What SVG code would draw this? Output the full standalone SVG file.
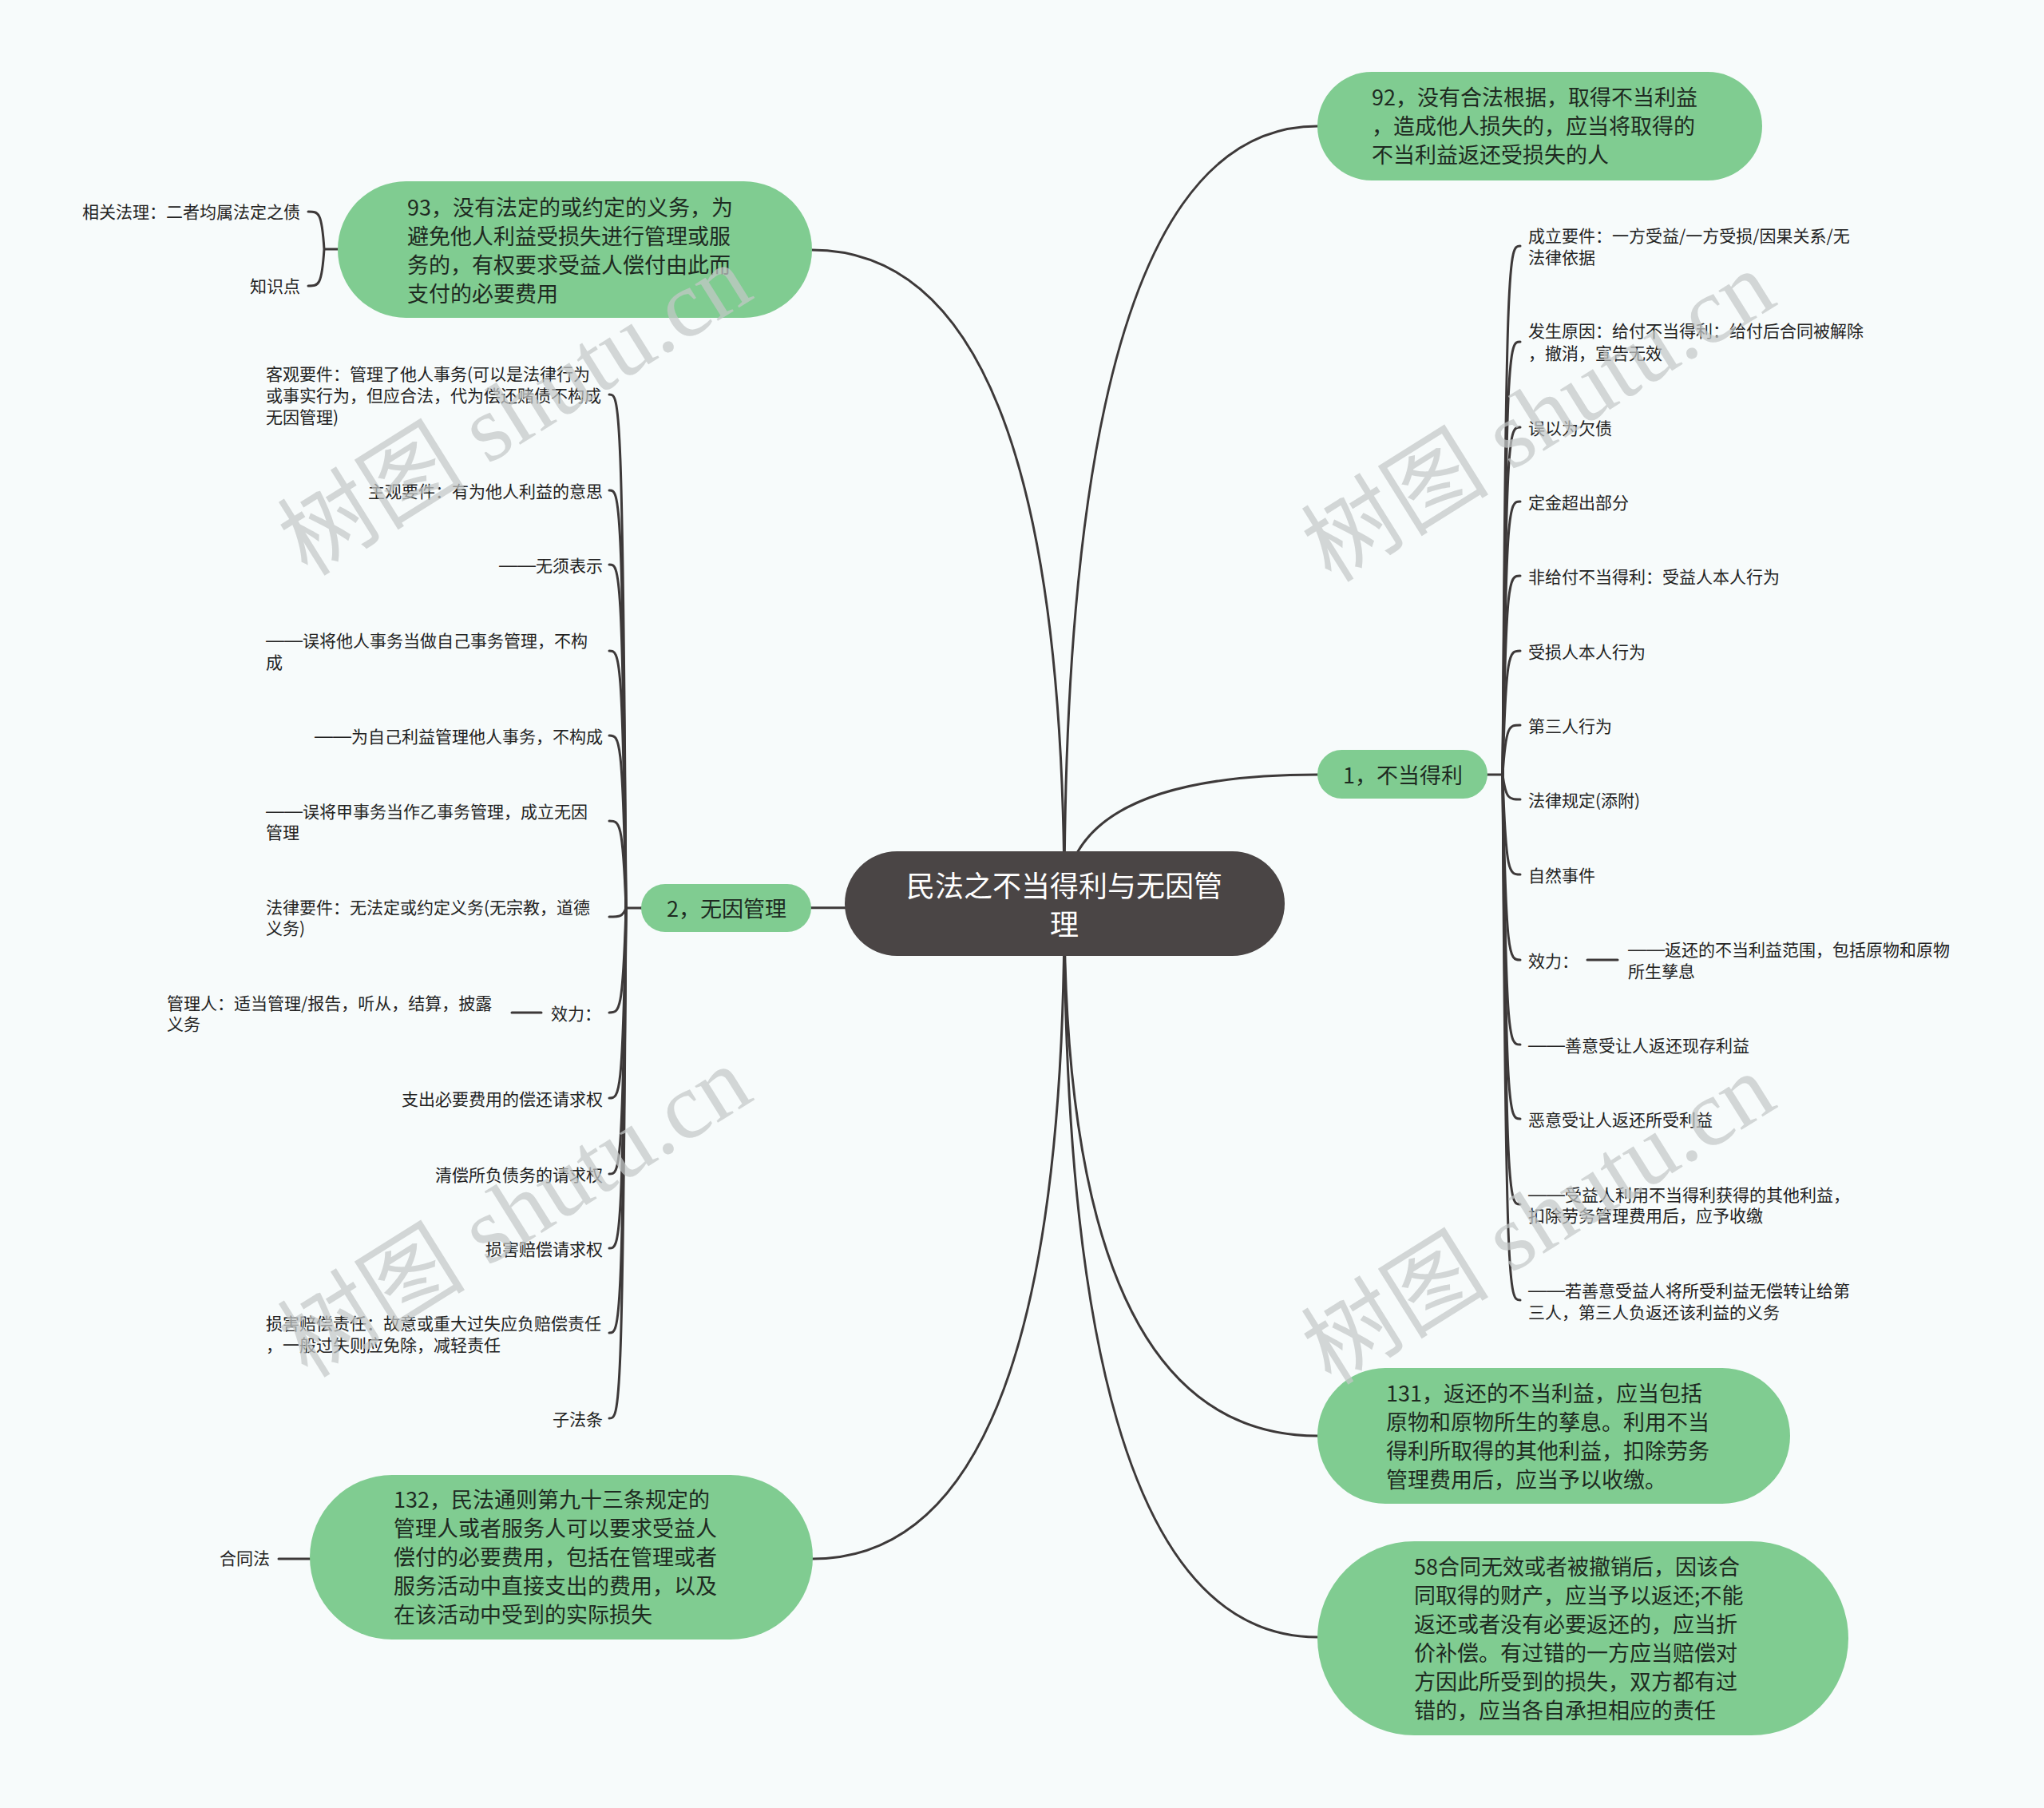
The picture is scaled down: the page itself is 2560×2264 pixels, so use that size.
<svg xmlns="http://www.w3.org/2000/svg" width="2560" height="2264" viewBox="0 0 2560 2264">
<style>
text{font-family:"Noto Sans CJK SC","Noto Sans",sans-serif;dominant-baseline:central}
.main{fill:#80cc91}
.mt{font-size:27px;fill:#1e2a21}
.st{font-size:21px;fill:#222}
.d{font-family:"Liberation Sans","Noto Sans CJK SC",sans-serif;font-size:23px}
.r{text-anchor:end}
.c{text-anchor:middle}
.ln{fill:none;stroke:#3d3939;stroke-width:3;stroke-linecap:round}
.wm{font-family:"Liberation Serif","Noto Sans CJK SC",serif;font-size:118px;fill:#c4c8c8;opacity:0.72;text-anchor:middle}
</style>
<rect width="2560" height="2264" fill="#f7fbfb"/>
<g id="connectors">
<path class="ln" d="M1333,1133 Q1333,158 1650,158"/>
<path class="ln" d="M1333,1133 Q1333,313 1017,313"/>
<path class="ln" d="M1333,1133 Q1333,970 1650,970"/>
<path class="ln" d="M1333,1133 Q1333,1137 803,1137"/>
<path class="ln" d="M1333,1133 Q1333,1798 1650,1798"/>
<path class="ln" d="M1333,1133 Q1333,2050 1650,2050"/>
<path class="ln" d="M1333,1133 Q1333,1952 1018,1952"/>
<path class="ln" d="M423,312 H406 M406,312 C403,265 399,265 386,265 M406,312 C403,358 399,358 386,358"/>
<path class="ln" d="M388,1952 H349"/>
<path class="ln" d="M1863,970 H1882"/>
<path class="ln" d="M1882,970 C1886,308 1890,308 1904,308"/>
<path class="ln" d="M1882,970 C1886,428 1890,428 1904,428"/>
<path class="ln" d="M1882,970 C1886,535 1890,535 1904,535"/>
<path class="ln" d="M1882,970 C1886,628 1890,628 1904,628"/>
<path class="ln" d="M1882,970 C1886,721 1890,721 1904,721"/>
<path class="ln" d="M1882,970 C1886,815 1890,815 1904,815"/>
<path class="ln" d="M1882,970 C1886,908 1890,908 1904,908"/>
<path class="ln" d="M1882,970 C1886,1001 1890,1001 1904,1001"/>
<path class="ln" d="M1882,970 C1886,1095 1890,1095 1904,1095"/>
<path class="ln" d="M1882,970 C1886,1202 1890,1202 1904,1202"/>
<path class="ln" d="M1882,970 C1886,1308 1890,1308 1904,1308"/>
<path class="ln" d="M1882,970 C1886,1401 1890,1401 1904,1401"/>
<path class="ln" d="M1882,970 C1886,1508 1890,1508 1904,1508"/>
<path class="ln" d="M1882,970 C1886,1628 1890,1628 1904,1628"/>
<path class="ln" d="M1988,1202 H2026"/>
<path class="ln" d="M803,1137 H784"/>
<path class="ln" d="M784,1137 C780,494 776,494 763,494"/>
<path class="ln" d="M784,1137 C780,614 776,614 763,614"/>
<path class="ln" d="M784,1137 C780,707 776,707 763,707"/>
<path class="ln" d="M784,1137 C780,815 776,815 763,815"/>
<path class="ln" d="M784,1137 C780,921 776,921 763,921"/>
<path class="ln" d="M784,1137 C780,1028 776,1028 763,1028"/>
<path class="ln" d="M784,1137 C780,1148 776,1148 763,1148"/>
<path class="ln" d="M784,1137 C780,1268 776,1268 763,1268"/>
<path class="ln" d="M784,1137 C780,1375 776,1375 763,1375"/>
<path class="ln" d="M784,1137 C780,1470 776,1470 763,1470"/>
<path class="ln" d="M784,1137 C780,1563 776,1563 763,1563"/>
<path class="ln" d="M784,1137 C780,1669 776,1669 763,1669"/>
<path class="ln" d="M784,1137 C780,1776 776,1776 763,1776"/>
<path class="ln" d="M641,1268 H678"/>
</g>
<g id="root">
<rect x="1058" y="1066" width="551" height="131" rx="65.5" fill="#4a4545"/>
<text x="1333" y="1107" class="c" font-size="36" fill="#fff">民法之不当得利与无因管</text>
<text x="1333" y="1155" class="c" font-size="36" fill="#fff">理</text>
</g>
<g id="n92">
<rect class="main" x="1650" y="90" width="557" height="136" rx="68"/>
<text class="mt" x="1718" y="120">92，没有合法根据，取得不当利益</text>
<text class="mt" x="1718" y="156">，造成他人损失的，应当将取得的</text>
<text class="mt" x="1718" y="192">不当利益返还受损失的人</text>
</g>
<g id="n93">
<rect class="main" x="423" y="227" width="594" height="171" rx="85.5"/>
<text class="mt" x="510" y="258">93，没有法定的或约定的义务，为</text>
<text class="mt" x="510" y="294">避免他人利益受损失进行管理或服</text>
<text class="mt" x="510" y="330">务的，有权要求受益人偿付由此而</text>
<text class="mt" x="510" y="366">支付的必要费用</text>
</g>
<g id="n93a"><text class="st r" x="376" y="264">相关法理：二者均属法定之债</text></g>
<g id="n93b"><text class="st r" x="376" y="357">知识点</text></g>
<g id="n1">
<rect class="main" x="1650" y="939" width="213" height="61" rx="30.5"/>
<text class="mt c" x="1757" y="969">1，不当得利</text>
</g>
<g id="n1-children">
<text class="st" x="1914" y="294">成立要件：一方受益/一方受损/因果关系/无</text>
<text class="st" x="1914" y="321">法律依据</text>
<text class="st" x="1914" y="413">发生原因：给付不当得利：给付后合同被解除</text>
<text class="st" x="1914" y="441">，撤消，宣告无效</text>
<text class="st" x="1914" y="535">误以为欠债</text>
<text class="st" x="1914" y="628">定金超出部分</text>
<text class="st" x="1914" y="721">非给付不当得利：受益人本人行为</text>
<text class="st" x="1914" y="815">受损人本人行为</text>
<text class="st" x="1914" y="908">第三人行为</text>
<text class="st" x="1914" y="1001">法律规定(添附)</text>
<text class="st" x="1914" y="1095">自然事件</text>
<text class="st" x="1914" y="1202">效力：</text>
<text class="st" x="2039" y="1188"><tspan class="d">——</tspan>返还的不当利益范围，包括原物和原物</text>
<text class="st" x="2039" y="1215">所生孳息</text>
<text class="st" x="1914" y="1308"><tspan class="d">——</tspan>善意受让人返还现存利益</text>
<text class="st" x="1914" y="1401">恶意受让人返还所受利益</text>
<text class="st" x="1914" y="1495"><tspan class="d">——</tspan>受益人利用不当得利获得的其他利益，</text>
<text class="st" x="1914" y="1521">扣除劳务管理费用后，应予收缴</text>
<text class="st" x="1914" y="1615"><tspan class="d">——</tspan>若善意受益人将所受利益无偿转让给第</text>
<text class="st" x="1914" y="1642">三人，第三人负返还该利益的义务</text>
</g>
<g id="n2">
<rect class="main" x="803" y="1107" width="213" height="60" rx="30"/>
<text class="mt c" x="910" y="1136">2，无因管理</text>
</g>
<g id="n2-children">
<text class="st" x="333" y="467">客观要件：管理了他人事务(可以是法律行为</text>
<text class="st" x="333" y="494">或事实行为，但应合法，代为偿还赌债不构成</text>
<text class="st" x="333" y="521">无因管理)</text>
<text class="st r" x="755" y="614">主观要件：有为他人利益的意思</text>
<text class="st r" x="755" y="707"><tspan class="d">——</tspan>无须表示</text>
<text class="st" x="333" y="801"><tspan class="d">——</tspan>误将他人事务当做自己事务管理，不构</text>
<text class="st" x="333" y="828">成</text>
<text class="st r" x="755" y="921"><tspan class="d">——</tspan>为自己利益管理他人事务，不构成</text>
<text class="st" x="333" y="1015"><tspan class="d">——</tspan>误将甲事务当作乙事务管理，成立无因</text>
<text class="st" x="333" y="1041">管理</text>
<text class="st" x="333" y="1135">法律要件：无法定或约定义务(无宗教，道德</text>
<text class="st" x="333" y="1161">义务)</text>
<text class="st r" x="753" y="1268">效力：</text>
<text class="st" x="209" y="1255">管理人：适当管理/报告，听从，结算，披露</text>
<text class="st" x="209" y="1281">义务</text>
<text class="st r" x="755" y="1375">支出必要费用的偿还请求权</text>
<text class="st r" x="755" y="1470">清偿所负债务的请求权</text>
<text class="st r" x="755" y="1563">损害赔偿请求权</text>
<text class="st" x="333" y="1656">损害赔偿责任：故意或重大过失应负赔偿责任</text>
<text class="st" x="333" y="1683">，一般过失则应免除，减轻责任</text>
<text class="st r" x="755" y="1776">子法条</text>
</g>
<g id="n131">
<rect class="main" x="1650" y="1713" width="592" height="170" rx="85"/>
<text class="mt" x="1736" y="1743">131，返还的不当利益，应当包括</text>
<text class="mt" x="1736" y="1779">原物和原物所生的孳息。利用不当</text>
<text class="mt" x="1736" y="1815">得利所取得的其他利益，扣除劳务</text>
<text class="mt" x="1736" y="1851">管理费用后，应当予以收缴。</text>
</g>
<g id="n58">
<rect class="main" x="1650" y="1930" width="665" height="243" rx="121.5"/>
<text class="mt" x="1771" y="1960">58合同无效或者被撤销后，因该合</text>
<text class="mt" x="1771" y="1996">同取得的财产，应当予以返还;不能</text>
<text class="mt" x="1771" y="2032">返还或者没有必要返还的，应当折</text>
<text class="mt" x="1771" y="2068">价补偿。有过错的一方应当赔偿对</text>
<text class="mt" x="1771" y="2104">方因此所受到的损失，双方都有过</text>
<text class="mt" x="1771" y="2140">错的，应当各自承担相应的责任</text>
</g>
<g id="n132">
<rect class="main" x="388" y="1847" width="630" height="206" rx="103"/>
<text class="mt" x="493" y="1876">132，民法通则第九十三条规定的</text>
<text class="mt" x="493" y="1912">管理人或者服务人可以要求受益人</text>
<text class="mt" x="493" y="1948">偿付的必要费用，包括在管理或者</text>
<text class="mt" x="493" y="1984">服务活动中直接支出的费用，以及</text>
<text class="mt" x="493" y="2020">在该活动中受到的实际损失</text>
</g>
<g id="n132a"><text class="st r" x="338" y="1950">合同法</text></g>
<g id="watermarks">
<text class="wm" transform="translate(645,514) rotate(-32)">树图 shutu.cn</text>
<text class="wm" transform="translate(1927,522) rotate(-32)">树图 shutu.cn</text>
<text class="wm" transform="translate(645,1518) rotate(-32)">树图 shutu.cn</text>
<text class="wm" transform="translate(1927,1527) rotate(-32)">树图 shutu.cn</text>
</g>
</svg>
